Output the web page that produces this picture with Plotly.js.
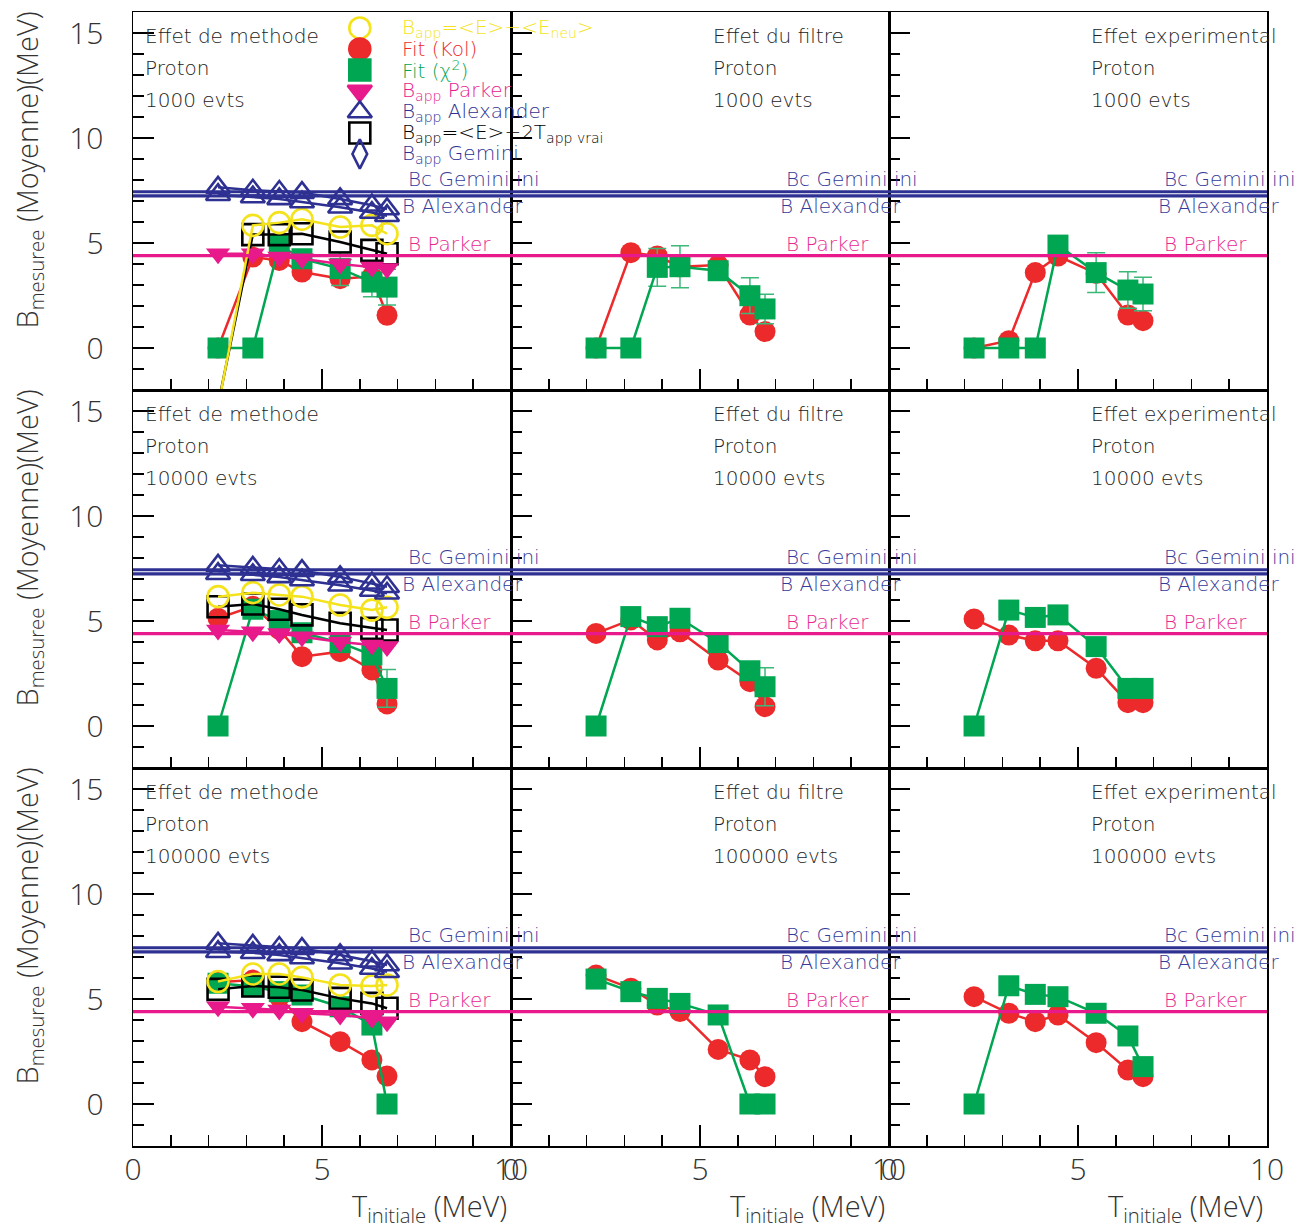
<!DOCTYPE html>
<html><head><meta charset="utf-8">
<script src="https://cdn.plot.ly/plotly-3.0.1.min.js"></script>
<style>html,body{margin:0;padding:0;background:#fff}</style>
</head><body><div id="chart" style="width:1297px;height:1228px"></div>
<script>
// ---------- data ----------
const T_initiale = [2.25, 3.17, 3.87, 4.47, 5.48, 6.32, 6.72];
const colTitles = ['Effet de methode', 'Effet du filtre', 'Effet experimental'];
const rowEvents = ['1000 evts', '10000 evts', '100000 evts'];
const particle = 'Proton';

// reference values (MeV)
const B_gemini_ini = 7.44;
const B_alexander = 7.24;
const B_parker = 4.40;
const refLabels = ['Bc Gemini ini', 'B Alexander', 'B Parker'];

// 1000 evts
const kol_meth_1k = [0, 4.33, 4.17, 3.62, 3.30, 3.40, 1.56];
const chi2_meth_1k = [0, 0, 4.90, 4.25, 3.78, 3.14, 2.90];
const chi2err_meth_1k = [0, 0, 0.3, 0.3, 0.8, 0.7, 0.85];
const eneu_meth_1k = [-2.8, 5.84, 5.97, 6.13, 5.76, 5.84, 5.44];
const twoT_meth_1k = [-2.7, 5.40, 5.40, 5.44, 5.05, 4.65, 4.49];
const parker_meth_1k = [4.49, 4.49, 4.33, 4.25, 4.00, 3.86, 3.78];
const alex_meth_1k = [7.30, 7.19, 7.10, 6.95, 6.70, 6.45, 6.30];
const gemini_meth_1k = [7.65, 7.51, 7.45, 7.40, 7.10, 6.80, 6.62];
const kol_filt_1k = [0, 4.54, 4.38, 3.87, 3.95, 1.57, 0.78];
const chi2_filt_1k = [0, 0, 3.84, 3.87, 3.68, 2.49, 1.86];
const chi2err_filt_1k = [0, 0, 0.9, 1.0, 0.2, 0.85, 0.7];
const kol_exp_1k = [0, 0.35, 3.59, 4.38, 3.55, 1.57, 1.30];
const chi2_exp_1k = [0, 0, 0, 4.90, 3.59, 2.76, 2.57];
const chi2err_exp_1k = [0, 0, 0, 0.3, 0.95, 0.87, 0.8];

// 10000 evts
const kol_meth_10k = [5.13, 5.70, 4.60, 3.30, 3.54, 2.67, 1.05];
const chi2_meth_10k = [0, 5.56, 5.02, 4.44, 3.97, 3.38, 1.79];
const chi2err_meth_10k = [0, 0.3, 0.3, 0.4, 0.3, 0.4, 0.9];
const eneu_meth_10k = [6.16, 6.35, 6.24, 6.16, 5.76, 5.52, 5.65];
const twoT_meth_10k = [5.68, 5.81, 5.56, 5.29, 4.89, 4.65, 4.57];
const parker_meth_10k = [4.57, 4.49, 4.41, 4.25, 4.00, 3.86, 3.78];
const alex_meth_10k = [7.25, 7.20, 7.10, 6.95, 6.70, 6.45, 6.32];
const gemini_meth_10k = [7.65, 7.55, 7.45, 7.40, 7.10, 6.80, 6.63];
const kol_filt_10k = [4.41, 5.05, 4.10, 4.49, 3.14, 2.11, 0.92];
const chi2_filt_10k = [0, 5.21, 4.73, 5.13, 3.97, 2.63, 1.87];
const chi2err_filt_10k = [0, 0, 0, 0, 0.3, 0.3, 0.9];
const kol_exp_10k = [5.10, 4.33, 4.06, 4.06, 2.75, 1.11, 1.11];
const chi2_exp_10k = [0, 5.52, 5.17, 5.29, 3.78, 1.79, 1.79];
const chi2err_exp_10k = [0, 0.3, 0, 0, 0, 0.3, 0.3];

// 100000 evts
const kol_meth_100k = [5.80, 5.90, 5.10, 3.92, 2.97, 2.10, 1.33];
const chi2_meth_100k = [5.75, 5.59, 5.35, 5.19, 4.63, 3.76, 0];
const chi2err_meth_100k = [0, 0, 0, 0, 0, 0, 0];
const eneu_meth_100k = [5.83, 6.19, 6.19, 6.03, 5.67, 5.62, 5.67];
const twoT_meth_100k = [5.46, 5.62, 5.56, 5.43, 5.03, 4.79, 4.56];
const parker_meth_100k = [4.63, 4.56, 4.48, 4.32, 4.24, 4.08, 3.92];
const alex_meth_100k = [7.25, 7.20, 7.10, 6.95, 6.70, 6.45, 6.30];
const gemini_meth_100k = [7.65, 7.55, 7.45, 7.40, 7.10, 6.80, 6.62];
const kol_filt_100k = [6.14, 5.51, 4.71, 4.40, 2.60, 2.10, 1.30];
const chi2_filt_100k = [5.95, 5.35, 5.03, 4.79, 4.24, 0, 0];
const chi2err_filt_100k = [0, 0, 0, 0, 0, 0, 0];
const kol_exp_100k = [5.11, 4.32, 3.92, 4.24, 2.92, 1.62, 1.30];
const chi2_exp_100k = [0, 5.63, 5.22, 5.11, 4.32, 3.24, 1.78];
const chi2err_exp_100k = [0, 0, 0, 0, 0, 0, 0];

// legend entries
const legendLabels = [
  'B<sub>app</sub>=&lt;E&gt;−&lt;E<sub>neu</sub>&gt;',
  'Fit (Kol)',
  'Fit (χ<sup>2</sup>)',
  'B<sub>app</sub> Parker',
  'B<sub>app</sub> Alexander',
  'B<sub>app</sub>=&lt;E&gt;−2T<sub>app vrai</sub>',
  'B<sub>app</sub> Gemini'
];

// ---------- styles ----------
const W = 1297, H = 1228;
const FONT = 'Open Sans, sans-serif';
const TXT_FONT = 'DejaVu Sans, sans-serif';
const YEL = '#f4e31b', RED = '#ec2a2c', GRN = '#00a651', PNK = '#e8198b', BLU = '#2e3192', BLK = '#000000';
const GRN_ERR = '#3cb878', BLU_TXT = '#363a98', PNK_TXT = '#e8288f';
const legendColors = [YEL, RED, GRN, PNK, BLU, BLK, BLU];
const legendSymbols = ['circle-open', 'circle', 'square', 'triangle-down', 'triangle-up-open', 'square-open', 'diamond-tall-open'];

const panels = [
  {kind: 'meth', kol: kol_meth_1k, chi2: chi2_meth_1k, err: chi2err_meth_1k, eneu: eneu_meth_1k, twoT: twoT_meth_1k, parker: parker_meth_1k, alex: alex_meth_1k, gem: gemini_meth_1k},
  {kind: 'filt', kol: kol_filt_1k, chi2: chi2_filt_1k, err: chi2err_filt_1k},
  {kind: 'exp', kol: kol_exp_1k, chi2: chi2_exp_1k, err: chi2err_exp_1k},
  {kind: 'meth', kol: kol_meth_10k, chi2: chi2_meth_10k, err: chi2err_meth_10k, eneu: eneu_meth_10k, twoT: twoT_meth_10k, parker: parker_meth_10k, alex: alex_meth_10k, gem: gemini_meth_10k},
  {kind: 'filt', kol: kol_filt_10k, chi2: chi2_filt_10k, err: chi2err_filt_10k},
  {kind: 'exp', kol: kol_exp_10k, chi2: chi2_exp_10k, err: chi2err_exp_10k},
  {kind: 'meth', kol: kol_meth_100k, chi2: chi2_meth_100k, err: chi2err_meth_100k, eneu: eneu_meth_100k, twoT: twoT_meth_100k, parker: parker_meth_100k, alex: alex_meth_100k, gem: gemini_meth_100k},
  {kind: 'filt', kol: kol_filt_100k, chi2: chi2_filt_100k, err: chi2err_filt_100k},
  {kind: 'exp', kol: kol_exp_100k, chi2: chi2_exp_100k, err: chi2err_exp_100k}
];

const xEdges = [[133, 511], [511, 889], [889, 1267]];
const yEdges = [[12, 390], [390, 768], [768, 1146]];

const traces = [];
const layout = {
  width: W, height: H, margin: {l: 0, r: 0, t: 0, b: 0},
  paper_bgcolor: '#ffffff', plot_bgcolor: 'rgba(0,0,0,0)',
  showlegend: false, shapes: [], annotations: [],
  font: {family: FONT, color: '#222'}
};

function sfx(i) { return i === 1 ? '' : String(i); }

function series(idx, y, color, symbol, extra) {
  const open = symbol.indexOf('open') >= 0;
  const t = {
    type: 'scatter', mode: 'lines+markers', x: T_initiale, y: y,
    xaxis: 'x' + sfx(idx), yaxis: 'y' + sfx(idx),
    line: {color: color, width: 2.5},
    marker: {symbol: symbol, size: 21, color: color, line: {color: color, width: open ? 2.6 : 0}},
    hoverinfo: 'skip', cliponaxis: true
  };
  return Object.assign(t, extra || {});
}

const tickFont = {family: FONT, size: 30, color: '#333', weight: 300};
const axCommon = {
  showgrid: false, zeroline: false, showline: true, mirror: true,
  linecolor: '#000', linewidth: 1.5,
  ticks: 'inside', ticklen: 21, tickwidth: 1.5, tickcolor: '#000',
  tickmode: 'linear', tick0: 0, dtick: 5,
  tickfont: tickFont, fixedrange: true,
  minor: {ticks: 'inside', dtick: 1, ticklen: 11, tickwidth: 1.5, tickcolor: '#000', showgrid: false}
};
const smallFont = {family: TXT_FONT, size: 20, weight: 200};

for (let r = 0; r < 3; r++) {
  for (let c = 0; c < 3; c++) {
    const p = r * 3 + c, idx = p + 1, s = sfx(idx);
    layout['xaxis' + s] = Object.assign({}, axCommon, {
      domain: [xEdges[c][0] / W, xEdges[c][1] / W], anchor: 'y' + s,
      range: [0, 10], showticklabels: r === 2, ticklabelstandoff: -4
    });
    layout['yaxis' + s] = Object.assign({}, axCommon, {
      domain: [1 - yEdges[r][1] / H, 1 - yEdges[r][0] / H], anchor: 'x' + s,
      range: [-2, 16], showticklabels: c === 0, ticklabelstandoff: 22
    });

    const P = panels[p];
    const errY = {type: 'data', array: P.err, visible: true, color: GRN_ERR, thickness: 1.5, width: 9};
    traces.push(series(idx, P.kol, RED, 'circle'));
    traces.push(series(idx, P.chi2, GRN, 'square', {error_y: errY}));
    if (P.kind === 'meth') {
      traces.push(series(idx, P.twoT, BLK, 'square-open'));
      traces.push(series(idx, P.parker, PNK, 'triangle-down'));
      traces.push(series(idx, P.eneu, YEL, 'circle-open'));
      traces.push(series(idx, P.alex, BLU, 'triangle-up-open'));
      traces.push(series(idx, P.gem, BLU, 'triangle-up-open'));
    }

    // reference lines
    [[B_gemini_ini, BLU], [B_alexander, BLU], [B_parker, PNK]].forEach(([v, col]) => {
      layout.shapes.push({type: 'line', xref: 'x' + s + ' domain', yref: 'y' + s, x0: 0, x1: 1, y0: v, y1: v,
        line: {color: col, width: 3.2}, layer: 'above'});
    });
    // reference labels
    layout.annotations.push({xref: 'x' + s, yref: 'y' + s, x: 7.22, y: 8.05, xanchor: 'left', yanchor: 'middle', showarrow: false,
      text: refLabels[0], font: Object.assign({color: BLU_TXT}, smallFont)});
    layout.annotations.push({xref: 'x' + s, yref: 'y' + s, x: 7.06, y: 6.76, xanchor: 'left', yanchor: 'middle', showarrow: false,
      text: refLabels[1], font: Object.assign({color: BLU_TXT}, smallFont)});
    layout.annotations.push({xref: 'x' + s, yref: 'y' + s, x: 7.22, y: 4.95, xanchor: 'left', yanchor: 'middle', showarrow: false,
      text: refLabels[2], font: Object.assign({color: PNK_TXT}, smallFont)});

    // panel texts
    const tx = c === 0 ? 0.26 : 5.28;
    [colTitles[c], particle, rowEvents[r]].forEach((t, k) => {
      layout.annotations.push({xref: 'x' + s, yref: 'y' + s, x: tx, y: 14.86 - 1.52 * k, xanchor: 'left', yanchor: 'middle',
        showarrow: false, text: t, font: Object.assign({color: '#222'}, smallFont)});
    });
  }
  // y-axis title for the row
  layout.annotations.push({xref: 'paper', yref: 'paper', x: 28 / W, y: 1 - (yEdges[r][0] - 2) / H, xanchor: 'center', yanchor: 'top',
    textangle: -90, showarrow: false, text: 'B<sub>mesuree</sub> (Moyenne)(MeV)',
    font: {family: FONT, size: 29, color: '#333', weight: 300}});
}
// x-axis titles
for (let c = 0; c < 3; c++) {
  layout.annotations.push({xref: 'paper', yref: 'paper', x: (xEdges[c][1] - 2) / W, y: 1 - 1207 / H, xanchor: 'right', yanchor: 'middle',
    showarrow: false, text: 'T<sub>initiale</sub> (MeV)', font: {family: FONT, size: 29, color: '#333', weight: 300}});
}

// legend (panel 1)
traces.push({
  type: 'scatter', mode: 'markers', xaxis: 'x', yaxis: 'y',
  x: legendLabels.map(() => 6.0), y: legendLabels.map((_, i) => 15.24 - i),
  marker: {symbol: legendSymbols, size: 21, color: legendColors, line: {color: legendColors, width: 2.6}},
  hoverinfo: 'skip', cliponaxis: false
});
legendLabels.forEach((t, i) => {
  layout.annotations.push({xref: 'x', yref: 'y', x: 7.06, y: 15.24 - i, xanchor: 'left', yanchor: 'middle', showarrow: false,
    text: t, font: Object.assign({color: legendColors[i]}, smallFont)});
});

Plotly.newPlot('chart', traces, layout, {staticPlot: true, displayModeBar: false});
</script>
</body></html>
